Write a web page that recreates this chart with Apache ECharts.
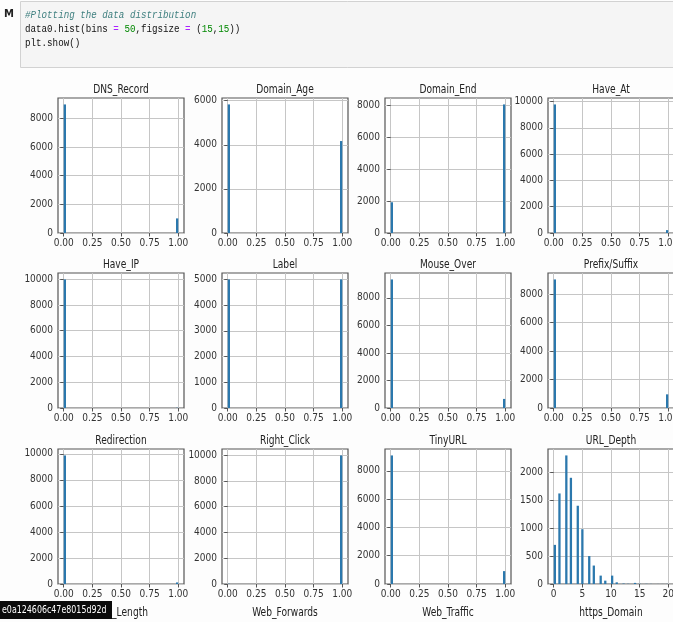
<!DOCTYPE html>
<html><head><meta charset="utf-8">
<script src="https://cdn.jsdelivr.net/npm/echarts@6/dist/echarts.min.js"></script>
<style>html,body{margin:0;padding:0;background:#fff;}#c{width:673px;height:622px;}</style>
</head><body><div id="c"></div>
<script>
// ---------------- data ----------------
const titles = ['DNS_Record','Domain_Age','Domain_End','Have_At','Have_IP','Label','Mouse_Over','Prefix/Suffix','Redirection','Right_Click','TinyURL'];
const zeroCounts = [8980, 5830, 1930, 9780, 9980, 5000, 9340, 9040, 9880, 20, 9090];
const oneCounts  = [1020, 4170, 8070, 220, 20, 5000, 660, 960, 120, 9980, 910];
const binaryXTicks = [0, 0.25, 0.5, 0.75, 1.0];
const binaryYTicks = [
  [0,2000,4000,6000,8000],
  [0,2000,4000,6000],
  [0,2000,4000,6000,8000],
  [0,2000,4000,6000,8000,10000],
  [0,2000,4000,6000,8000,10000],
  [0,1000,2000,3000,4000,5000],
  [0,2000,4000,6000,8000],
  [0,2000,4000,6000,8000],
  [0,2000,4000,6000,8000,10000],
  [0,2000,4000,6000,8000,10000],
  [0,2000,4000,6000,8000]
];
const depthTitle = 'URL_Depth';
const depthValues = [0,1,2,3,4,5,6,7,8,9,10,11,12,13,14,15,16,17,18,19,20];
const depthCounts = [700,1620,2300,1900,1400,980,500,330,150,60,150,30,8,4,20,5,3,2,1,1,2];
const depthXTicks = [0,5,10,15,20];
const depthYTicks = [0,500,1000,1500,2000];
const bottomTitles = ['URL_Length','Web_Forwards','Web_Traffic','https_Domain'];
const codeLines = ['#Plotting the data distribution','data0.hist(bins = 50,figsize = (15,15))','plt.show()'];
const tooltipHash = 'e0a124606c47e8015d92d';
const nBins = 50;

// ---------------- layout ----------------
const colLeft = [58, 222, 385, 548];
const rowTop = [98, 273, 449];
const plotW = 126, plotH = 135;
const barColor = '#2b78ad';
const FONT = "'DejaVu Sans Condensed','DejaVu Sans',sans-serif";
const TITLE_FONT = "11.5px " + FONT;

const chart = echarts.init(document.getElementById('c'), null, {renderer:'canvas'});

const grids = [], xAxes = [], yAxes = [], series = [], graphics = [];

function histItem(params, api) {
  const p0 = api.coord([api.value(0), api.value(2)]);
  const p1 = api.coord([api.value(1), 0]);
  return {type:'rect', shape:{x:p0[0], y:p0[1], width:Math.max(p1[0]-p0[0],1), height:p1[1]-p0[1]},
          style:{fill:barColor}};
}

function addPanel(idx, title, bins, xmin, xmax, xTicks, yTicks, ymax, xfmt) {
  const r = Math.floor(idx/4), c = idx%4;
  grids.push({left:colLeft[c], top:rowTop[r], width:plotW, height:plotH, show:true,
    borderColor:'#555', borderWidth:1.2, backgroundColor:'#fff', containLabel:false, outerBoundsMode:'none'});
  const common = {
    axisLine:{show:false},
    axisTick:{show:true, inside:false, length:3.5, lineStyle:{color:'#555', width:1}},
    splitLine:{show:true, lineStyle:{color:'#c6c6c6', width:1}},
    axisLabel:{color:'#333', fontSize:10, fontFamily:FONT, margin:5}
  };
  xAxes.push(Object.assign({}, common, {
    type:'value', gridIndex:idx, min:xmin, max:xmax,
    axisTick:Object.assign({}, common.axisTick, {customValues:xTicks}),
    axisLabel:Object.assign({}, common.axisLabel, {customValues:xTicks, formatter:xfmt, showMinLabel:true, showMaxLabel:true, hideOverlap:false})
  }));
  yAxes.push(Object.assign({}, common, {
    type:'value', gridIndex:idx, min:0, max:ymax,
    axisTick:Object.assign({}, common.axisTick, {customValues:yTicks}),
    axisLabel:Object.assign({}, common.axisLabel, {customValues:yTicks, formatter:v=>String(v), showMinLabel:true, showMaxLabel:true, hideOverlap:false})
  }));
  series.push({type:'custom', xAxisIndex:idx, yAxisIndex:idx, renderItem:histItem, clip:true,
    encode:{x:[0,1], y:2}, data:bins, silent:true});
  graphics.push({type:'text', x:colLeft[c]+plotW/2, y:rowTop[r]-8, z:10, scaleX:0.88,
    style:{text:title, align:'center', verticalAlign:'middle', font:TITLE_FONT, fill:'#222'}});
}

// binary features: 50 bins on [0,1]
const bw = 1/nBins;
titles.forEach((t,i) => {
  const bins = [[0, bw, zeroCounts[i]], [1-bw, 1, oneCounts[i]]];
  const m = Math.max(zeroCounts[i], oneCounts[i]) * 1.05;
  addPanel(i, t, bins, -0.05, 1.05, binaryXTicks, binaryYTicks[i], m, v => v.toFixed(2));
});

// URL_Depth: 50 bins on [min,max]
const dmin = Math.min(...depthValues), dmax = Math.max(...depthValues);
const dbw = (dmax-dmin)/nBins;
const depthBins = depthValues.map((v,k) => {
  const bi = Math.min(Math.floor((v-dmin)/dbw + 1e-9), nBins-1);
  return [dmin+bi*dbw, dmin+(bi+1)*dbw, depthCounts[k]];
});
const dspan = dmax-dmin;
addPanel(11, depthTitle, depthBins, dmin-0.05*dspan, dmax+0.05*dspan, depthXTicks, depthYTicks,
  Math.max(...depthCounts)*1.05, v => String(v));

// bottom row titles (cut off)
bottomTitles.forEach((t,c) => {
  graphics.push({type:'text', x:colLeft[c]+plotW/2, y:613, z:10, scaleX:0.88,
    style:{text:t, align:'center', verticalAlign:'middle', font:TITLE_FONT, fill:'#222'}});
});

// code cell
graphics.push({type:'rect', z:1, shape:{x:20.5, y:1.5, width:660, height:66},
  style:{fill:'#f5f5f5', stroke:'#d2d2d2', lineWidth:1}});
graphics.push({type:'text', x:4, y:9, z:5, style:{text:'M', font:"bold 10px 'DejaVu Sans'", fill:'#222'}});
const mono = "11.5px 'Liberation Mono','DejaVu Sans Mono',monospace";
graphics.push({type:'text', x:25, y:15, z:5, scaleX:0.8,
  style:{text:codeLines[0], font:"italic "+mono, fill:'#408080', verticalAlign:'middle'}});
graphics.push({type:'text', x:25, y:29, z:5, scaleX:0.8,
  style:{text:'{n|data0.hist(bins }{o|=}{n| }{m|50}{n|,figsize }{o|=}{n| (}{m|15}{n|,}{m|15}{n|))}',
    font:mono, verticalAlign:'middle',
    rich:{n:{fill:'#111', font:mono}, o:{fill:'#aa22ff', font:mono}, m:{fill:'#008800', font:mono}}}});
graphics.push({type:'text', x:25, y:43, z:5, scaleX:0.8,
  style:{text:codeLines[2], font:mono, fill:'#111', verticalAlign:'middle'}});

// tooltip-like black box
graphics.push({type:'rect', z:100, shape:{x:0, y:601, width:112, height:18}, style:{fill:'#0b0b0b'}});
graphics.push({type:'text', z:101, x:2, y:610, scaleX:0.8,
  style:{text:tooltipHash, font:"11px "+FONT, fill:'#fff', verticalAlign:'middle'}});

chart.setOption({
  animation:false,
  backgroundColor:'#fdfdfd',
  grid:grids, xAxis:xAxes, yAxis:yAxes, series:series, graphic:graphics
});
</script></body></html>
